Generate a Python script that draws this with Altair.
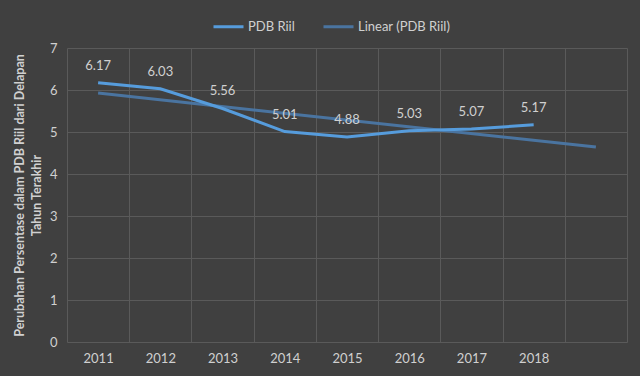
import altair as alt
import pandas as pd

years = [2011, 2012, 2013, 2014, 2015, 2016, 2017, 2018]
values = [6.17, 6.03, 5.56, 5.01, 4.88, 5.03, 5.07, 5.17]
series_names = ["PDB Riil", "Linear (PDB Riil)"]
y_ticks = [0, 1, 2, 3, 4, 5, 6, 7]
trend_extent = [2011, 2019]
band_edges = [2010.5 + i for i in range(10)]

FONT = "Lato"
TXT = "#d0d0d0"
GRID = "#5a5a5a"

df = pd.DataFrame({"year": years, "value": values, "series": series_names[0]})

xscale = alt.Scale(domain=[2010.5, 2019.5], nice=False, zero=False)
yscale = alt.Scale(domain=[0, 7], nice=False)
yaxis = alt.Axis(values=y_ticks, grid=True, gridColor=GRID, ticks=False, domain=False,
                 labelColor=TXT, labelFont=FONT, labelFontSize=13, labelPadding=10,
                 title=["Perubahan Persentase dalam PDB Riil dari Delapan", "Tahun Terakhir"],
                 titleColor=TXT, titleFont=FONT, titleFontSize=12.5, titleFontWeight="bold",
                 titlePadding=6, titleLineHeight=17)
Y = alt.Y("value:Q", scale=yscale, axis=yaxis)

color = alt.Color(
    "series:N",
    scale=alt.Scale(domain=series_names, range=["#569cdc", "#4a74a0"]),
    legend=alt.Legend(
        title=None, orient="none", direction="horizontal",
        legendX=145, legendY=-38,
        symbolType="stroke", symbolSize=900, symbolStrokeWidth=3,
        labelColor=TXT, labelFont=FONT, labelFontSize=13,
        columnPadding=22, labelOffset=3,
    ),
)

base = alt.Chart(df)

grid_layer = base.mark_line(opacity=0).encode(
    x=alt.X("year:Q", scale=xscale,
            axis=alt.Axis(orient="top", values=band_edges, labels=False, ticks=False,
                          domain=False, grid=True, gridColor=GRID, gridWidth=1, title=None)),
    y=Y,
)

trend = base.transform_regression(
    "year", "value", extent=trend_extent
).transform_calculate(series='"Linear (PDB Riil)"').mark_line(strokeWidth=3).encode(
    x=alt.X("year:Q", scale=xscale, axis=None),
    y=Y,
    color=color,
)

line = base.mark_line(strokeWidth=3).encode(
    x=alt.X("year:Q", scale=xscale,
            axis=alt.Axis(values=years, format="d", grid=False, ticks=False, domain=False,
                          labelColor=TXT, labelFont=FONT, labelFontSize=13, labelPadding=10,
                          title=None)),
    y=Y,
    color=color,
)

labels = base.mark_text(dy=-17, font=FONT, fontSize=13, color=TXT).encode(
    x=alt.X("year:Q", scale=xscale, axis=None),
    y=Y,
    text=alt.Text("value:Q", format=".2f"),
)

chart = alt.layer(grid_layer, trend, line, labels).resolve_axis(x="independent").properties(
    width=560, height=294,
    autosize=alt.AutoSizeParams(type="none"),
    padding={"left": 67, "top": 48, "right": 13, "bottom": 34},
    background="#404040",
).configure_view(stroke=None)

chart.save("out.html", embed_options={"renderer": "svg", "actions": False})
